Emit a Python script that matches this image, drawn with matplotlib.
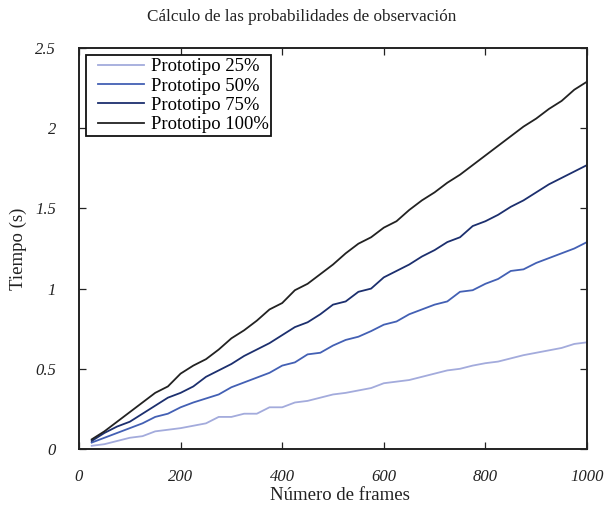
import matplotlib
matplotlib.use("Agg")
import matplotlib.pyplot as plt
from matplotlib.legend_handler import HandlerLine2D
from matplotlib.lines import Line2D

frames = list(range(25, 1001, 25))

p25 = [0.02, 0.03, 0.05, 0.07, 0.08, 0.11, 0.12, 0.13, 0.145, 0.16,
       0.20, 0.20, 0.22, 0.22, 0.26, 0.26, 0.29, 0.30, 0.32, 0.34,
       0.35, 0.365, 0.38, 0.41, 0.42, 0.43, 0.45, 0.47, 0.49, 0.50,
       0.52, 0.535, 0.545, 0.565, 0.585, 0.60, 0.615, 0.63, 0.655, 0.665]
p50 = [0.04, 0.07, 0.10, 0.13, 0.16, 0.20, 0.22, 0.26, 0.29, 0.315,
       0.34, 0.385, 0.415, 0.445, 0.475, 0.52, 0.54, 0.59, 0.60, 0.645,
       0.68, 0.70, 0.735, 0.775, 0.795, 0.84, 0.87, 0.90, 0.92, 0.98,
       0.99, 1.03, 1.06, 1.11, 1.12, 1.16, 1.19, 1.22, 1.25, 1.29]
p75 = [0.05, 0.10, 0.14, 0.17, 0.22, 0.27, 0.32, 0.35, 0.39, 0.45,
       0.49, 0.53, 0.58, 0.62, 0.66, 0.71, 0.76, 0.79, 0.84, 0.90,
       0.92, 0.98, 1.00, 1.07, 1.11, 1.15, 1.20, 1.24, 1.29, 1.32,
       1.39, 1.42, 1.46, 1.51, 1.55, 1.60, 1.65, 1.69, 1.73, 1.77]
p100 = [0.06, 0.11, 0.17, 0.23, 0.29, 0.35, 0.39, 0.47, 0.52, 0.56,
        0.62, 0.69, 0.74, 0.80, 0.87, 0.91, 0.99, 1.03, 1.09, 1.15,
        1.22, 1.28, 1.32, 1.38, 1.42, 1.49, 1.55, 1.60, 1.66, 1.71,
        1.77, 1.83, 1.89, 1.95, 2.01, 2.06, 2.12, 2.17, 2.24, 2.29]

labels = ["Prototipo 25%", "Prototipo 50%", "Prototipo 75%", "Prototipo 100%"]
colors = ["#a3abdc", "#4360b4", "#1c2f6e", "#222222"]

xticks = [0, 200, 400, 600, 800, 1000]
xticklabels = ["0", "200", "400", "600", "800", "1000"]
yticks = [0, 0.5, 1, 1.5, 2, 2.5]
yticklabels = ["0", "0.5", "1", "1.5", "2", "2.5"]

plt.rcParams['font.family'] = ['Liberation Serif', 'DejaVu Serif']


class ShiftedLineHandler(HandlerLine2D):
    def __init__(self, shift=6.0, **kw):
        super().__init__(**kw)
        self.shift = shift

    def create_artists(self, legend, orig_handle, xdescent, ydescent,
                       width, height, fontsize, trans):
        arts = super().create_artists(legend, orig_handle, xdescent, ydescent,
                                      width, height, fontsize, trans)
        for a in arts:
            if isinstance(a, Line2D) and a.get_linestyle() not in ('None', ''):
                xd = list(a.get_xdata())
                yd = list(a.get_ydata())
                a.set_data([xd[0] + self.shift, xd[-1]], [yd[0], yd[-1]])
        return arts


fig = plt.figure(figsize=(6.04, 5.08), dpi=100)
ax = fig.add_axes([79/604, 59/508, 508/604, 401/508])

handles = []
for ys, lab, c in zip([p25, p50, p75, p100], labels, colors):
    h, = ax.plot(frames, ys, color=c, lw=1.3, label=lab)
    handles.append(h)

ax.set_xlim(0, 1000)
ax.set_ylim(0, 2.5)
ax.set_xticks(xticks)
ax.set_xticklabels(xticklabels, fontstyle='italic', fontsize=12)
ax.set_yticks(yticks)
ax.set_yticklabels(yticklabels, fontstyle='italic', fontsize=12)
ax.tick_params(direction='in', top=True, right=True, length=5, width=0.9,
               colors='#222222')
ax.tick_params(axis='x', pad=14.5)
ax.tick_params(axis='y', pad=16.5)
for s in ax.spines.values():
    s.set_linewidth(1.4)
    s.set_color('#222222')

ax.set_xlabel("Número de frames", fontsize=13.5, color='#222222', labelpad=1, x=0.514)
ax.set_ylabel("Tiempo (s)", fontsize=13.5, color='#222222', labelpad=6)
fig.text(0.5, 1 - 17/508, "Cálculo de las probabilidades de observación",
         fontsize=12.3, color='#222222', ha='center', va='center')

leg = ax.legend(handles=handles, loc='upper left', fontsize=13.4, frameon=True,
                fancybox=False, edgecolor='#111111', framealpha=1,
                handlelength=2.95, handletextpad=0.35, borderpad=0.15,
                labelspacing=0.12, borderaxespad=0.4,
                handler_map={Line2D: ShiftedLineHandler(shift=6.0)})
leg.get_frame().set_linewidth(1.3)

fig.savefig("out.png", dpi=100)
